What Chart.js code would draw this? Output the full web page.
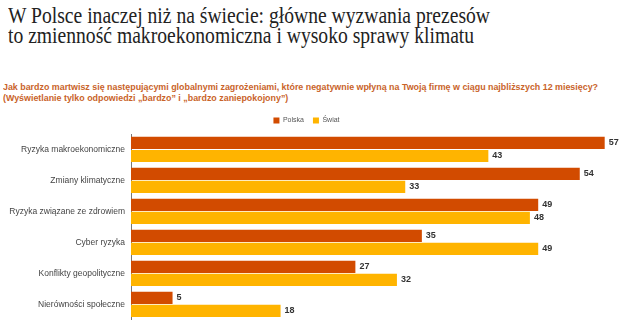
<!DOCTYPE html>
<html>
<head>
<meta charset="utf-8">
<script src="https://cdn.jsdelivr.net/npm/chart.js@4"></script>
<style>
  body { margin: 0; background: #fff; width: 626px; height: 331px; overflow: hidden; position: relative; }
  #title { position: absolute; left: 8px; top: 6px; font-family: "Liberation Serif", serif; font-size: 23px; line-height: 20px; color: #222; white-space: nowrap; transform-origin: 0 0; }
  #sub { position: absolute; left: 3px; top: 82px; font-family: "Liberation Sans", Arial, sans-serif; font-weight: bold; font-size: 9px; line-height: 11px; color: #c9632a; white-space: nowrap; transform-origin: 0 0; }
  #wrap { position: absolute; left: 0; top: 108px; width: 626px; height: 223px; }
</style>
</head>
<body>
<div id="title"><span id="t1">W Polsce inaczej niż na świecie: główne wyzwania prezesów</span><br>to zmienność makroekonomiczna i wysoko sprawy klimatu</div>
<div id="sub"><span id="s1">Jak bardzo martwisz się następującymi globalnymi zagrożeniami, które negatywnie wpłyną na Twoją firmę w ciągu najbliższych 12 miesięcy?</span><br>(Wyświetlanie tylko odpowiedzi „bardzo” i „bardzo zaniepokojony”)</div>
<div id="wrap"><canvas id="chart"></canvas></div>
<script>
var categories = ["Ryzyka makroekonomiczne", "Zmiany klimatyczne", "Ryzyka związane ze zdrowiem", "Cyber ryzyka", "Konflikty geopolityczne", "Nierówności społeczne"];
var polska = [57, 54, 49, 35, 27, 5];
var swiat = [43, 33, 48, 49, 32, 18];
var seriesNames = ["Polska", "Świat"];

// squeeze the heading lines to the width they have in the picture
function fitWidth(boxId, lineId, target) {
  var w = document.getElementById(lineId).getBoundingClientRect().width;
  document.getElementById(boxId).style.transform = 'scaleX(' + (target / w) + ')';
}
fitWidth('title', 't1', 482);
fitWidth('sub', 's1', 595);

// value labels at the end of each bar
const valueLabels = {
  id: 'valueLabels',
  afterDatasetsDraw(chart) {
    const ctx = chart.ctx;
    ctx.save();
    ctx.font = 'bold 9px "Liberation Sans", Arial, sans-serif';
    ctx.fillStyle = '#333';
    ctx.textBaseline = 'middle';
    chart.data.datasets.forEach(function(ds, i) {
      chart.getDatasetMeta(i).data.forEach(function(bar, j) {
        ctx.fillText(ds.data[j], bar.x + 4, bar.y);
      });
    });
    ctx.restore();
  }
};

new Chart(document.getElementById('chart'), {
  type: 'bar',
  data: {
    labels: categories,
    datasets: [
      { label: seriesNames[0], data: polska, backgroundColor: '#d24b00', barPercentage: 0.94, categoryPercentage: 0.84 },
      { label: seriesNames[1], data: swiat, backgroundColor: '#ffb400', barPercentage: 0.94, categoryPercentage: 0.84 }
    ]
  },
  plugins: [valueLabels],
  options: {
    indexAxis: 'y',
    responsive: true,
    maintainAspectRatio: false,
    animation: false,
    layout: { padding: { left: 0, right: 13, top: 0, bottom: 8 } },
    plugins: {
      legend: {
        display: true,
        position: 'top',
        labels: {
          boxWidth: 6, boxHeight: 6, padding: 9, color: '#555',
          font: { size: 7, family: '"Liberation Sans", Arial, sans-serif' }
        }
      },
      tooltip: { enabled: false }
    },
    scales: {
      x: { display: false, min: 0, max: 58 },
      y: {
        grid: { display: false, drawTicks: false },
        border: { display: true, color: '#777', width: 1 },
        ticks: { color: '#444', padding: 6, font: { size: 8.5, family: '"Liberation Sans", Arial, sans-serif' } },
        afterFit: function(scale) { scale.width = 131; }
      }
    }
  }
});
</script>
</body>
</html>
